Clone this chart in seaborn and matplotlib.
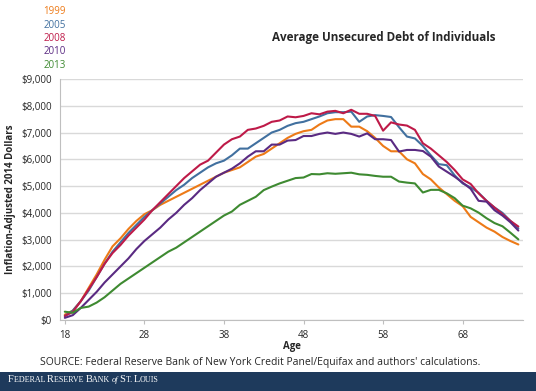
import numpy as np
import pandas as pd
import seaborn as sns
import matplotlib.pyplot as plt
from matplotlib.ticker import FuncFormatter

# ages 18..75
ages = list(range(18, 76))

debt_1999 = [0.2, 0.35, 0.7, 1.2, 1.7, 2.25, 2.75, 3.05, 3.4, 3.7, 3.95, 4.1, 4.3, 4.45,
             4.6, 4.75, 4.9, 5.05, 5.2, 5.35, 5.5, 5.6, 5.7, 5.9, 6.1, 6.2, 6.4, 6.6, 6.8,
             6.95, 7.05, 7.1, 7.3, 7.45, 7.5, 7.5, 7.22, 7.22, 7.05, 6.8, 6.5, 6.3, 6.3,
             6.0, 5.85, 5.45, 5.25, 4.95, 4.7, 4.45, 4.25, 3.85, 3.65, 3.45, 3.3, 3.1,
             2.95, 2.82]
debt_2005 = [0.15, 0.35, 0.7, 1.1, 1.6, 2.1, 2.55, 2.9, 3.25, 3.55, 3.85, 4.1, 4.35, 4.6,
             4.85, 5.05, 5.3, 5.5, 5.7, 5.85, 5.95, 6.15, 6.4, 6.4, 6.6, 6.8, 7.0, 7.1,
             7.25, 7.35, 7.4, 7.5, 7.6, 7.72, 7.76, 7.76, 7.78, 7.4, 7.6, 7.65, 7.62,
             7.58, 7.2, 6.85, 6.78, 6.5, 6.15, 5.82, 5.78, 5.4, 5.1, 4.95, 4.75, 4.45,
             4.2, 4.0, 3.7, 3.42]
debt_2008 = [0.15, 0.3, 0.7, 1.15, 1.6, 2.1, 2.5, 2.8, 3.15, 3.45, 3.75, 4.1, 4.4, 4.7,
             5.0, 5.3, 5.55, 5.8, 5.95, 6.25, 6.55, 6.75, 6.85, 7.1, 7.15, 7.25, 7.4,
             7.45, 7.6, 7.57, 7.62, 7.72, 7.68, 7.78, 7.81, 7.72, 7.85, 7.7, 7.7, 7.62,
             7.07, 7.38, 7.3, 7.26, 7.1, 6.6, 6.4, 6.15, 5.9, 5.6, 5.25, 5.08, 4.73,
             4.45, 4.2, 3.95, 3.7, 3.49]
debt_2010 = [0.08, 0.18, 0.45, 0.75, 1.05, 1.4, 1.7, 2.0, 2.3, 2.65, 2.95, 3.2, 3.45,
             3.75, 4.0, 4.3, 4.55, 4.85, 5.1, 5.35, 5.5, 5.65, 5.85, 6.1, 6.3, 6.3, 6.55,
             6.55, 6.7, 6.72, 6.87, 6.87, 6.95, 7.0, 6.95, 7.0, 6.95, 6.85, 6.97, 6.75,
             6.75, 6.72, 6.29, 6.35, 6.35, 6.31, 6.1, 5.73, 5.54, 5.35, 5.13, 4.9, 4.45,
             4.42, 4.1, 3.9, 3.65, 3.34]
debt_2013 = [0.31, 0.27, 0.45, 0.5, 0.65, 0.85, 1.1, 1.35, 1.55, 1.75, 1.95, 2.15, 2.35,
             2.55, 2.7, 2.9, 3.1, 3.3, 3.5, 3.7, 3.9, 4.05, 4.3, 4.45, 4.6, 4.85, 4.98,
             5.1, 5.2, 5.3, 5.32, 5.45, 5.44, 5.48, 5.46, 5.48, 5.5, 5.44, 5.42, 5.38,
             5.35, 5.35, 5.17, 5.13, 5.1, 4.76, 4.86, 4.86, 4.73, 4.55, 4.27, 4.17, 4.01,
             3.8, 3.62, 3.5, 3.26, 3.01]

years = ['1999', '2005', '2008', '2010', '2013']
colors = ['#ED7A17', '#41709F', '#BE1A48', '#5A2A82', '#3E8A31']

# long table in dollars
df = pd.DataFrame({'Age': ages, '1999': debt_1999, '2005': debt_2005, '2008': debt_2008,
                   '2010': debt_2010, '2013': debt_2013})
df = df.melt(id_vars='Age', var_name='Year', value_name='Debt')
df['Debt'] = df['Debt'] * 1000

sns.set_style('white')
plt.rcParams['font.family'] = ['Open Sans', 'DejaVu Sans']

fig = plt.figure(figsize=(5.36, 3.91), dpi=100)
ax = fig.add_axes([0.112, 0.1816, 0.864, 0.6164])

sns.lineplot(data=df, x='Age', y='Debt', hue='Year', hue_order=years,
             palette=colors, linewidth=1.5, legend=False, ax=ax)

ax.set_xlim(17.4, 75.6)
ax.set_ylim(0, 9000)
ax.set_xticks([18, 28, 38, 48, 58, 68])
ax.set_yticks(np.arange(0, 9001, 1000))
ax.yaxis.set_major_formatter(FuncFormatter(lambda v, p: '${:,.0f}'.format(v)))
ax.grid(axis='y', color='#d9d9d9', linewidth=1.0)
ax.set_axisbelow(True)
for s in ['top', 'right']:
    ax.spines[s].set_visible(False)
ax.spines['left'].set_color('#bfbfbf')
ax.spines['bottom'].set_color('#bfbfbf')
ax.tick_params(axis='x', length=3, color='#bfbfbf', labelsize=7, pad=4, bottom=True)
ax.tick_params(axis='y', length=0, labelsize=7, pad=6)
ax.set_xlabel('Age', fontsize=7, fontweight='bold', labelpad=0)
ax.set_ylabel('Inflation-Adjusted 2014 Dollars', fontsize=7, fontweight='bold', labelpad=4)

# year labels used as legend
for i, (yr, c) in enumerate(zip(years, colors)):
    fig.text(66 / 536, 1 - (12 + i * 13.3) / 391, yr, color=c, fontsize=7,
             ha='right', va='center')

fig.text(384 / 536, 1 - 37 / 391, 'Average Unsecured Debt of Individuals',
         fontsize=8.4, fontweight='bold', ha='center', va='center')

fig.text(40 / 536, 1 - 362 / 391,
         "SOURCE: Federal Reserve Bank of New York Credit Panel/Equifax and authors' calculations.",
         fontsize=7.5, ha='left', va='center')

# footer band
band = fig.add_axes([0, 0, 1, 19 / 391])
band.set_facecolor('#1E3A5C')
band.set_xticks([])
band.set_yticks([])
for s in band.spines.values():
    s.set_visible(False)

# small caps footer text built piece by piece
pieces = [('F', 7.5, 'normal'), ('EDERAL ', 5.8, 'normal'), ('R', 7.5, 'normal'),
          ('ESERVE ', 5.8, 'normal'), ('B', 7.5, 'normal'), ('ANK ', 5.8, 'normal'),
          ('of', 6, 'italic'), ('S', 7.5, 'normal'), ('T. ', 5.8, 'normal'),
          ('L', 7.5, 'normal'), ('OUIS', 5.8, 'normal')]
renderer = fig.canvas.get_renderer()
x = 8 / 536
for txt, size, style in pieces:
    t = fig.text(x, 1 - 382 / 391, txt, color='white', fontsize=size, fontstyle=style,
                 family='Liberation Serif', ha='left', va='baseline')
    bb = t.get_window_extent(renderer=renderer)
    x += bb.width / fig.bbox.width
    if style == 'italic':
        x += 1.5 / 536

fig.savefig('out.png', dpi=100)
